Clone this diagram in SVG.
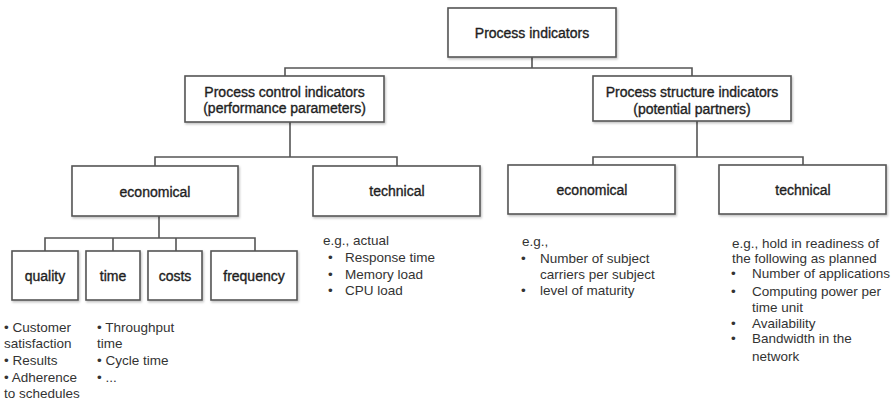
<svg xmlns="http://www.w3.org/2000/svg" width="893" height="401" viewBox="0 0 893 401">
<defs>
<filter id="sh" x="-10%" y="-10%" width="125%" height="130%">
<feDropShadow dx="1" dy="1.5" stdDeviation="1.2" flood-color="#000" flood-opacity="0.25"/>
</filter>
<style>
.box{fill:#fff;stroke:#555;stroke-width:1.6;filter:url(#sh)}
.lbl{font-family:"Liberation Sans",Arial,sans-serif;font-size:14px;fill:#1e1e1e;stroke:#1e1e1e;stroke-width:0.35;text-anchor:middle}
.txt{font-family:"Liberation Sans",Arial,sans-serif;font-size:13.5px;fill:#333}
.con{fill:none;stroke:#555;stroke-width:1.6}
</style>
</defs>
<rect width="893" height="401" fill="#fff"/>
<g id="connectors">
<path class="con" d="M532 57V68M285 76V68H692V76"/>
<path class="con" d="M290 122V157M155 166V157H397V166"/>
<path class="con" d="M697 121V157M593 165V157H803V165"/>
<path class="con" d="M159 216V238M45 251V238H255V251M113 238V251M176 238V251"/>
</g>
<g id="n-root"><rect class="box" x="448" y="8" width="168" height="49"/><text class="lbl" x="532" y="38">Process indicators</text></g>
<g id="n-control"><rect class="box" x="185" y="76" width="199" height="46"/><text class="lbl" x="284.5" y="97">Process control indicators</text><text class="lbl" x="284.5" y="113">(performance parameters)</text></g>
<g id="n-structure"><rect class="box" x="593" y="76" width="198" height="45"/><text class="lbl" x="692" y="97">Process structure indicators</text><text class="lbl" x="692" y="114">(potential partners)</text></g>
<g id="n-econ1"><rect class="box" x="72" y="166" width="166" height="50"/><text class="lbl" x="155" y="197">economical</text></g>
<g id="n-tech1"><rect class="box" x="313" y="166" width="167" height="50"/><text class="lbl" x="397" y="196">technical</text></g>
<g id="n-econ2"><rect class="box" x="508" y="165" width="167" height="49"/><text class="lbl" x="592" y="195">economical</text></g>
<g id="n-tech2"><rect class="box" x="719" y="165" width="167" height="49"/><text class="lbl" x="803" y="195">technical</text></g>
<g id="n-quality"><rect class="box" x="12" y="251" width="66" height="49"/><text class="lbl" x="45" y="281">quality</text></g>
<g id="n-time"><rect class="box" x="86" y="251" width="54" height="49"/><text class="lbl" x="113" y="281">time</text></g>
<g id="n-costs"><rect class="box" x="148" y="251" width="54" height="49"/><text class="lbl" x="175" y="281">costs</text></g>
<g id="n-frequency"><rect class="box" x="211" y="251" width="86" height="49"/><text class="lbl" x="254" y="281">frequency</text></g>
<g id="t-quality" class="txt">
<text x="4" y="332">• Customer</text>
<text x="4" y="348">satisfaction</text>
<text x="4" y="365">• Results</text>
<text x="4" y="382">• Adherence</text>
<text x="4" y="398">to schedules</text>
</g>
<g id="t-time" class="txt">
<text x="97" y="332">• Throughput</text>
<text x="97" y="348">time</text>
<text x="97" y="365">• Cycle time</text>
<text x="97" y="382">• ...</text>
</g>
<g id="t-tech1" class="txt">
<text x="323" y="245">e.g., actual</text>
<text x="328" y="262">•</text><text x="345" y="262">Response  time</text>
<text x="328" y="279">•</text><text x="345" y="279">Memory load</text>
<text x="328" y="295">•</text><text x="345" y="295">CPU load</text>
</g>
<g id="t-econ2" class="txt">
<text x="522" y="246">e.g.,</text>
<text x="521" y="263">•</text><text x="540" y="263">Number  of subject</text>
<text x="540" y="279">carriers per  subject</text>
<text x="521" y="295">•</text><text x="540" y="295">level  of maturity</text>
</g>
<g id="t-tech2" class="txt">
<text x="732" y="248">e.g., hold in readiness of</text>
<text x="732" y="263">the following  as planned</text>
<text x="731" y="278">•</text><text x="752" y="278">Number  of applications</text>
<text x="731" y="296">•</text><text x="752" y="296">Computing power per</text>
<text x="752" y="312">time  unit</text>
<text x="731" y="328">•</text><text x="752" y="328">Availability</text>
<text x="731" y="343">•</text><text x="752" y="343">Bandwidth  in the</text>
<text x="752" y="361">network</text>
</g>
</svg>
